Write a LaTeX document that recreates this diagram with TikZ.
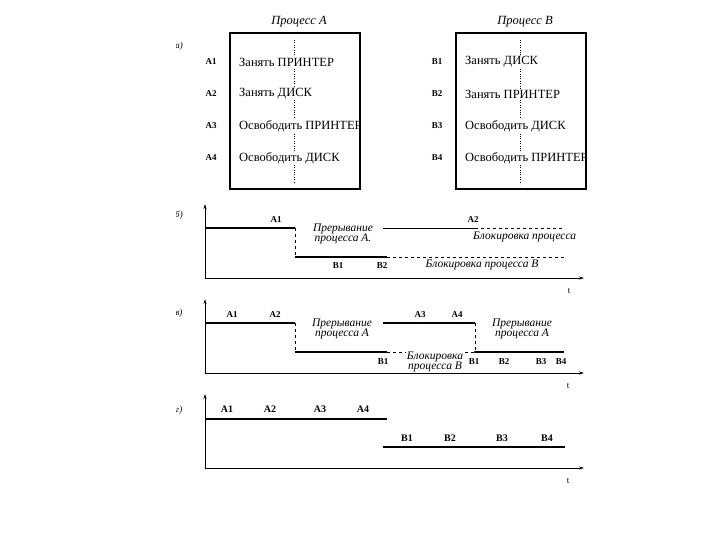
\documentclass[tikz,border=0pt]{standalone}
\usepackage{fontspec}
\setmainfont{Liberation Serif}
\usetikzlibrary{arrows.meta,positioning}
\tikzset{
  run/.style={line width=1.6pt},
  idle/.style={dashed, line width=0.6pt},
  axisline/.style={line width=0.8pt, -{Stealth[length=5pt,width=3pt]}},
  steplbl/.style={font=\bfseries\fontsize{9}{9}\selectfont, inner sep=1pt},
  cmd/.style={font=\fontsize{12.5}{13}\selectfont, fill=white, inner sep=1pt, anchor=west},
  note/.style={font=\itshape\fontsize{11.5}{10.5}\selectfont, align=center, inner sep=0pt},
  part/.style={font=\itshape\fontsize{9}{9}\selectfont, inner sep=0pt},
  tickdot/.style={circle, fill, inner sep=0pt, minimum size=2.2pt},
}

\begin{document}
\begin{tikzpicture}[x=1pt,y=-1pt]
  \useasboundingbox[fill=white] (0,0) rectangle (720,540);
  \begin{scope}
  \clip (176,0) rectangle (590,540);

  % --- а) programs of the two processes ---
  \node[part] (pa) at (179,46) {а)};
  \node[note, font=\itshape\fontsize{12.5}{12}\selectfont] (hdrA) at (299,22) {Процесс А};
  \node[note, font=\itshape\fontsize{12.5}{12}\selectfont] (hdrB) at (525,22) {Процесс В};
  \coordinate (dA0) at (294,40);
  \coordinate (dA1) at (294,184);
  \coordinate (dB0) at (520,40);
  \coordinate (dB1) at (520,184);
  \draw[dotted] (dA0) -- (dA1);
  \draw[dotted] (dB0) -- (dB1);
  \foreach \y/\n/\t in {62/1/Занять ПРИНТЕР, 94/2/Занять ДИСК, 126/3/Освободить ПРИНТЕР, 158/4/Освободить ДИСК} {
    \node[steplbl] (lA\n) at (211,\y) {А\n};
    \node[cmd] (cA\n) at (238,\y) {\t};
  }
  \foreach \y/\n/\t in {62/1/Занять ДИСК, 94/2/Занять ПРИНТЕР, 126/3/Освободить ДИСК, 158/4/Освободить ПРИНТЕР} {
    \node[steplbl] (lB\n) at (437,\y) {В\n};
    \node[cmd] (cB\n) at (464,\y) {\t};
  }
  \node[draw, line width=1.1pt, minimum width=130pt, minimum height=156pt, inner sep=0pt] (boxA) at (295,111) {};
  \node[draw, line width=1.1pt, minimum width=130pt, minimum height=156pt, inner sep=0pt] (boxB) at (521,111) {};

  % --- б) deadlock ---
  \node[part] (pb) at (179,215) {б)};
  \coordinate (b0) at (205,278);
  \coordinate (bT) at (205,204);
  \coordinate (bR) at (584,278);
  \draw[axisline] (b0) -- (bT);
  \draw[axisline] (b0) -- (bR);
  \node[font=\fontsize{9}{9}\selectfont] (tb) at (569,291) {t};
  \coordinate (ba0) at (205,228);
  \coordinate (ba1) at (295,228);
  \coordinate (bb1) at (295,257);
  \coordinate (bb2) at (387,257);
  \coordinate (bb3) at (565,257);
  \coordinate (ba2) at (383,228);
  \coordinate (ba3) at (475,228);
  \coordinate (ba4) at (565,228);
  \draw[run] (ba0) -- (ba1);
  \draw[idle] (ba1) -- (bb1);
  \draw[run] (bb1) -- (bb2);
  \draw[idle] (bb2) -- (bb3);
  \draw[line width=0.9pt] (ba2) -- (ba3);
  \draw[idle] (ba3) -- (ba4);
  \node[steplbl] (bA1) at (276,220) {А1};
  \node[steplbl] (bA2) at (473,220) {А2};
  \node[steplbl] (bB1) at (338,266) {В1};
  \node[steplbl] (bB2) at (382,266) {В2};
  \node[note, fill=white, inner sep=1pt] (bn1) at (343,234) {Прерывание\\процесса А.};
  \node[note, anchor=west] (bn2) at (473,237) {Блокировка процесса};
  \node[note] (bn3) at (482,265) {Блокировка процесса В};

  % --- в) interleaving without deadlock ---
  \node[part] (pc) at (179,313) {в)};
  \coordinate (c0) at (205,373);
  \coordinate (cT) at (205,299);
  \coordinate (cR) at (584,373);
  \draw[axisline] (c0) -- (cT);
  \draw[axisline] (c0) -- (cR);
  \node[font=\fontsize{9}{9}\selectfont] (tc) at (568,386) {t};
  \coordinate (ca0) at (205,323);
  \coordinate (ca1) at (295,323);
  \coordinate (cb1) at (295,352);
  \coordinate (cb2) at (387,352);
  \coordinate (ca2) at (383,323);
  \coordinate (ca3) at (475,323);
  \coordinate (cb3) at (475,352);
  \coordinate (cb4) at (564,352);
  \draw[run] (ca0) -- (ca1);
  \draw[idle] (ca1) -- (cb1);
  \draw[run] (cb1) -- (cb2);
  \draw[idle] (cb2) -- (cb3);
  \draw[run] (ca2) -- (ca3);
  \draw[idle] (ca3) -- (cb3);
  \draw[run] (cb3) -- (cb4);
  \foreach \x/\n in {232/1, 275/2, 420/3, 457/4} {
    \node[tickdot] (cdA\n) at (\x,323) {};
    \node[steplbl] (cA\n) at (\x,315) {А\n};
  }
  \node[tickdot] (cdB1) at (386,352) {};
  \node[steplbl] (cB1) at (383,362) {В1};
  \node[tickdot] (cdB1b) at (475,352) {};
  \node[steplbl] (cB1b) at (474,362) {В1};
  \foreach \x/\n in {504/2, 541/3, 561/4} {
    \node[tickdot] (cdB\n) at (\x,352) {};
    \node[steplbl] (cB\n) at (\x,362) {В\n};
  }
  \node[note] (cn1) at (342,329) {Прерывание\\процесса А};
  \node[note] (cn2) at (522,329) {Прерывание\\процесса А};
  \node[note, fill=white, inner sep=1pt] (cn3) at (435,362) {Блокировка\\процесса В};

  % --- г) sequential execution ---
  \node[part] (pd) at (179,410) {г)};
  \coordinate (d0) at (205,468);
  \coordinate (dT) at (205,394);
  \coordinate (dR) at (584,468);
  \draw[axisline] (d0) -- (dT);
  \draw[axisline] (d0) -- (dR);
  \node[font=\fontsize{9}{9}\selectfont] (td) at (568,481) {t};
  \coordinate (da0) at (205,419);
  \coordinate (da1) at (387,419);
  \coordinate (db0) at (383,447);
  \coordinate (db1) at (565,447);
  \draw[run] (da0) -- (da1);
  \draw[run] (db0) -- (db1);
  \foreach \x/\n in {227/1, 270/2, 320/3, 363/4} {
    \node[tickdot] (ddA\n) at (\x,419) {};
    \node[steplbl, font=\bfseries\fontsize{10}{10}\selectfont] (dA\n) at (\x,409) {А\n};
  }
  \foreach \x/\n in {407/1, 450/2, 502/3, 547/4} {
    \node[tickdot] (ddB\n) at (\x,447) {};
    \node[steplbl, font=\bfseries\fontsize{10}{10}\selectfont] (dB\n) at (\x,438) {В\n};
  }
  \end{scope}
\end{tikzpicture}
\end{document}
